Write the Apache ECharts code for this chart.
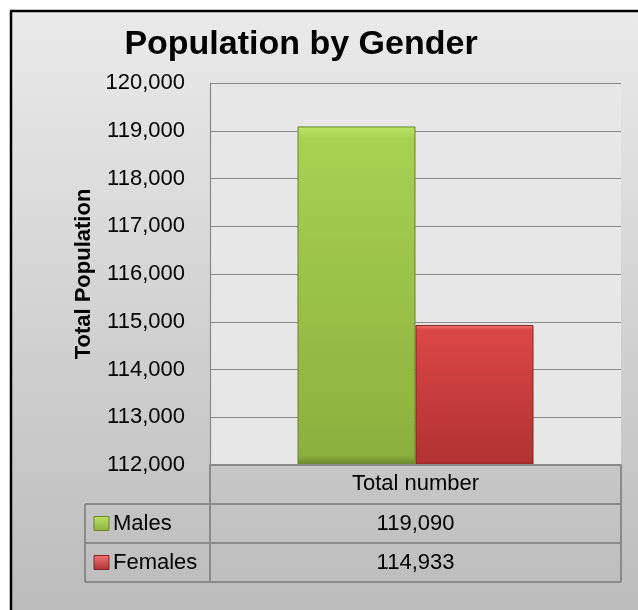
<!DOCTYPE html>
<html>
<head>
<meta charset="utf-8">
<script src="https://cdn.jsdelivr.net/npm/echarts@6/dist/echarts.min.js"></script>
<style>
  html, body { margin: 0; padding: 0; background: #ffffff; overflow: hidden; }
  #chart { width: 638px; height: 610px; }
</style>
</head>
<body>
<div id="chart"></div>
<script>
// Population by gender, one category shown as a clustered column with a data table
const categories = ['Total number'];
const seriesNames = ['Males', 'Females'];
const males = [119090];
const females = [114933];
const yTicks = [112000, 113000, 114000, 115000, 116000, 117000, 118000, 119000, 120000];

const FONT = '"Liberation Sans", Arial, sans-serif';
const fmt = v => Number(v).toLocaleString('en-US');

// plot area frame (pixels)
const G = { left: 210, right: 621, top: 83, bottom: 465 };
const ROW = 39;
const TABLE_LEFT = 85;
const LINE = '#8a8a8a';

const palette = {
  Males: { top: '#bde466', mid: '#a8d151', bottom: '#8cb03e', edge: '#66842c' },
  Females: { top: '#f27474', mid: '#db4747', bottom: '#b23232', edge: '#822424' }
};

function barFill(c) {
  return new echarts.graphic.LinearGradient(0, 0, 0, 1, [
    { offset: 0, color: c.top },
    { offset: 0.035, color: c.mid },
    { offset: 0.97, color: c.bottom },
    { offset: 1, color: c.edge }
  ]);
}

const chart = echarts.init(document.getElementById('chart'), null, { renderer: 'canvas' });

// data table drawn under the plot: header row + one row per series
function tableGraphics() {
  const els = [];
  const seriesValues = [males, females];
  const yRows = [G.bottom, G.bottom + ROW, G.bottom + 2 * ROW, G.bottom + 3 * ROW];
  const lineStyle = { stroke: LINE, lineWidth: 2 };
  els.push({ type: 'line', shape: { x1: G.left, y1: yRows[0], x2: G.right, y2: yRows[0] }, style: lineStyle, z: 5 });
  for (let i = 1; i < yRows.length; i++) {
    els.push({ type: 'line', shape: { x1: TABLE_LEFT, y1: yRows[i], x2: G.right, y2: yRows[i] }, style: lineStyle, z: 5 });
  }
  els.push({ type: 'line', shape: { x1: TABLE_LEFT, y1: yRows[1], x2: TABLE_LEFT, y2: yRows[3] }, style: lineStyle, z: 5 });
  els.push({ type: 'line', shape: { x1: G.left, y1: yRows[0], x2: G.left, y2: yRows[3] }, style: lineStyle, z: 5 });
  els.push({ type: 'line', shape: { x1: G.right, y1: yRows[0], x2: G.right, y2: yRows[3] }, style: lineStyle, z: 5 });

  seriesNames.forEach((name, i) => {
    const cy = yRows[i + 1] + ROW / 2;
    const c = palette[name];
    // legend key
    els.push({
      type: 'rect', shape: { x: TABLE_LEFT + 9, y: cy - 7, width: 15, height: 14 },
      style: { fill: new echarts.graphic.LinearGradient(0, 0, 0, 1, [
        { offset: 0, color: c.top }, { offset: 1, color: c.bottom }]), stroke: c.edge, lineWidth: 1 },
      z: 6
    });
    els.push({
      type: 'text', x: TABLE_LEFT + 28, y: cy,
      style: { text: name, font: '22px ' + FONT, fill: '#000', verticalAlign: 'middle', align: 'left' },
      z: 6
    });
    els.push({
      type: 'text', x: (G.left + G.right) / 2, y: cy,
      style: { text: fmt(seriesValues[i][0]), font: '22px ' + FONT, fill: '#000', verticalAlign: 'middle', align: 'center' },
      z: 6
    });
  });
  return els;
}

const option = {
  animation: false,
  title: {
    text: 'Population by Gender',
    left: 296,
    textAlign: 'center',
    top: 23,
    textStyle: { fontFamily: FONT, fontSize: 34, fontWeight: 'bold', color: '#000' }
  },
  graphic: [
    // chart area panel: gradient fill with a dark frame on the left and top
    {
      type: 'rect', z: -10,
      shape: { x: 11, y: 11, width: 627, height: 599 },
      style: {
        fill: new echarts.graphic.LinearGradient(0, 0, 0, 1, [
          { offset: 0, color: '#eaeaea' },
          { offset: 1, color: '#bcbcbc' }
        ])
      }
    },
    { type: 'line', z: -8, shape: { x1: 11, y1: 11, x2: 11, y2: 610 }, style: { stroke: '#000', lineWidth: 2.5 } },
    { type: 'line', z: -8, shape: { x1: 10, y1: 11, x2: 638, y2: 11 }, style: { stroke: '#000', lineWidth: 2.5 } },
    {
      type: 'rect', z: -9,
      shape: { x: G.left, y: G.top, width: G.right - G.left, height: G.bottom - G.top },
      style: { fill: '#e7e7e7' }
    }
  ].concat(tableGraphics()),
  grid: {
    left: G.left, right: 638 - G.right, top: G.top, bottom: 610 - G.bottom,
    containLabel: false
  },
  xAxis: {
    type: 'category',
    data: categories,
    axisLine: { show: true, lineStyle: { color: LINE, width: 2 } },
    axisTick: { show: false },
    axisLabel: { margin: 8, fontFamily: FONT, fontSize: 22, color: '#000' }
  },
  yAxis: {
    type: 'value',
    min: yTicks[0],
    max: yTicks[yTicks.length - 1],
    interval: yTicks[1] - yTicks[0],
    name: 'Total Population',
    nameLocation: 'middle',
    nameGap: 114,
    nameTextStyle: { fontFamily: FONT, fontSize: 22, fontWeight: 'bold', color: '#000' },
    axisLine: { show: true, lineStyle: { color: '#888', width: 1.2 } },
    axisTick: { show: false },
    splitLine: { show: true, lineStyle: { color: '#888', width: 1.2 } },
    axisLabel: { margin: 25, fontFamily: FONT, fontSize: 22, color: '#000', formatter: v => fmt(v) }
  },
  series: [
    {
      name: seriesNames[0], type: 'bar', data: males,
      barWidth: 118, barGap: '0%',
      itemStyle: { color: barFill(palette.Males), borderColor: palette.Males.edge, borderWidth: 1 }
    },
    {
      name: seriesNames[1], type: 'bar', data: females,
      barWidth: 118, barGap: '0%',
      itemStyle: { color: barFill(palette.Females), borderColor: palette.Females.edge, borderWidth: 1 }
    }
  ]
};

chart.setOption(option);
</script>
</body>
</html>
